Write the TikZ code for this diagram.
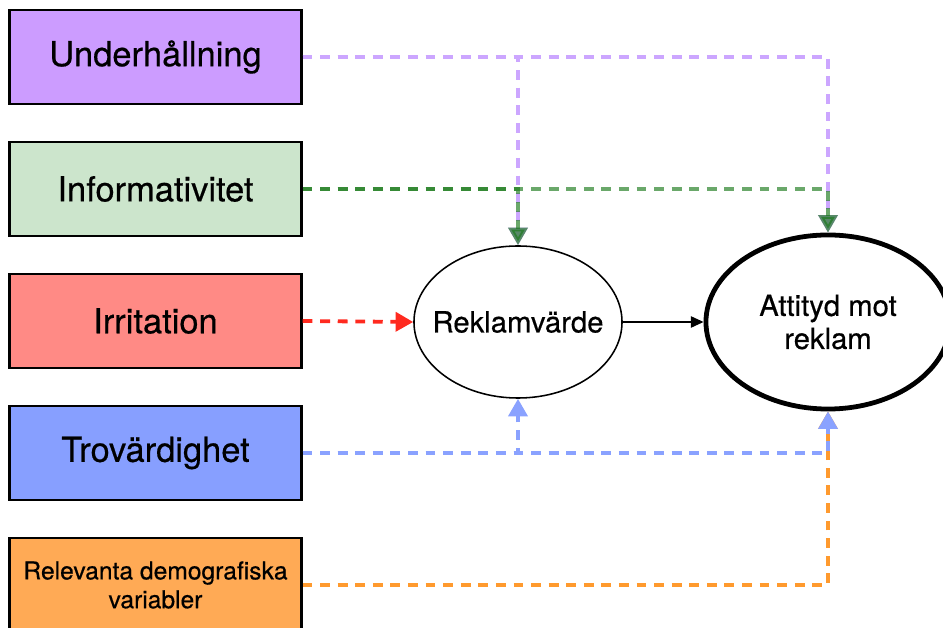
\documentclass[tikz,border=0pt]{standalone}
\usepackage{fontspec}
\setmainfont{TeX Gyre Heros}[FakeBold=0.5]
\usetikzlibrary{arrows.meta,shapes.geometric}
\definecolor{Lila}{HTML}{CC9CFF}
\definecolor{Ljusgron}{HTML}{CCE5CC}
\definecolor{Rosa}{HTML}{FF8A85}
\definecolor{Bla}{HTML}{879FFF}
\definecolor{Orange}{HTML}{FFAA55}
\definecolor{LilaLinje}{HTML}{CCA6FF}
\definecolor{GronLinje}{HTML}{1A7A1A}
\definecolor{RodLinje}{HTML}{FF2A1F}
\definecolor{BlaLinje}{HTML}{8AA2FF}
\definecolor{OrangeLinje}{HTML}{FF9A2E}
\tikzset{
  faktor/.style={draw=black, line width=1.5pt, minimum width=7.3cm, minimum height=2.35cm,
    inner sep=0pt, align=center, font=\fontsize{24.5}{28}\selectfont},
  utfall/.style={ellipse, draw=black, inner sep=0pt, align=center,
    font=\fontsize{20.8}{23.5}\selectfont},
  streck/.style={line width=2.7pt, dash pattern=on 7pt off 5.5pt,
    -{Triangle[length=12.5pt, width=13.5pt]}},
}

\begin{document}
\begin{tikzpicture}[x=0.025cm, y=-0.025cm]
    \useasboundingbox (0,0) rectangle (943,628);

    % Faktorer till vänster
    \node[faktor, fill=Lila] (und) at (155.5,57) {Underhållning};
    \node[faktor, fill=Ljusgron] (inf) at (155.5,189) {Informativitet};
    \node[faktor, fill=Rosa] (irr) at (155.5,321) {Irritation};
    \node[faktor, fill=Bla] (tro) at (155.5,453) {Trovärdighet};
    \node[faktor, fill=Orange, font=\fontsize{17.5}{20.5}\selectfont] (rel) at (155.5,585)
        {Relevanta demografiska\\variabler};

    % Reklamvärde och attityd
    \node[utfall, line width=1.1pt, inner xsep=-0.31cm, minimum width=5.2cm, minimum height=3.8cm] (rekl) at (518,322) {Reklamvärde};
    \node[utfall, line width=3.4pt, minimum width=6.1cm, minimum height=4.35cm] (att) at (828,322) {Attityd mot\\reklam};

    % Underhållning
    \draw[streck, LilaLinje] (und.east) -| (rekl.north);
    \draw[streck, LilaLinje] (und.east) -| (att.north);

    % Informativitet
    \draw[streck, GronLinje, opacity=0.65] (inf.east) -| (rekl.north);
    \draw[streck, GronLinje, opacity=0.65] (inf.east) -| (att.north);

    % Irritation
    \draw[streck, RodLinje] (irr.east) -- (rekl.west);

    % Relevanta demografiska variabler
    \draw[streck, OrangeLinje] (rel.east) -| (att.south);

    % Trovärdighet
    \draw[streck, BlaLinje] (tro.east) -| (rekl.south);
    \draw[streck, BlaLinje] (tro.east) -| (att.south);

    % Reklamvärde -> attityd
    \draw[line width=1.1pt, -{Triangle[length=9pt, width=8pt]}] (rekl) -- (att);

\end{tikzpicture}
\end{document}
